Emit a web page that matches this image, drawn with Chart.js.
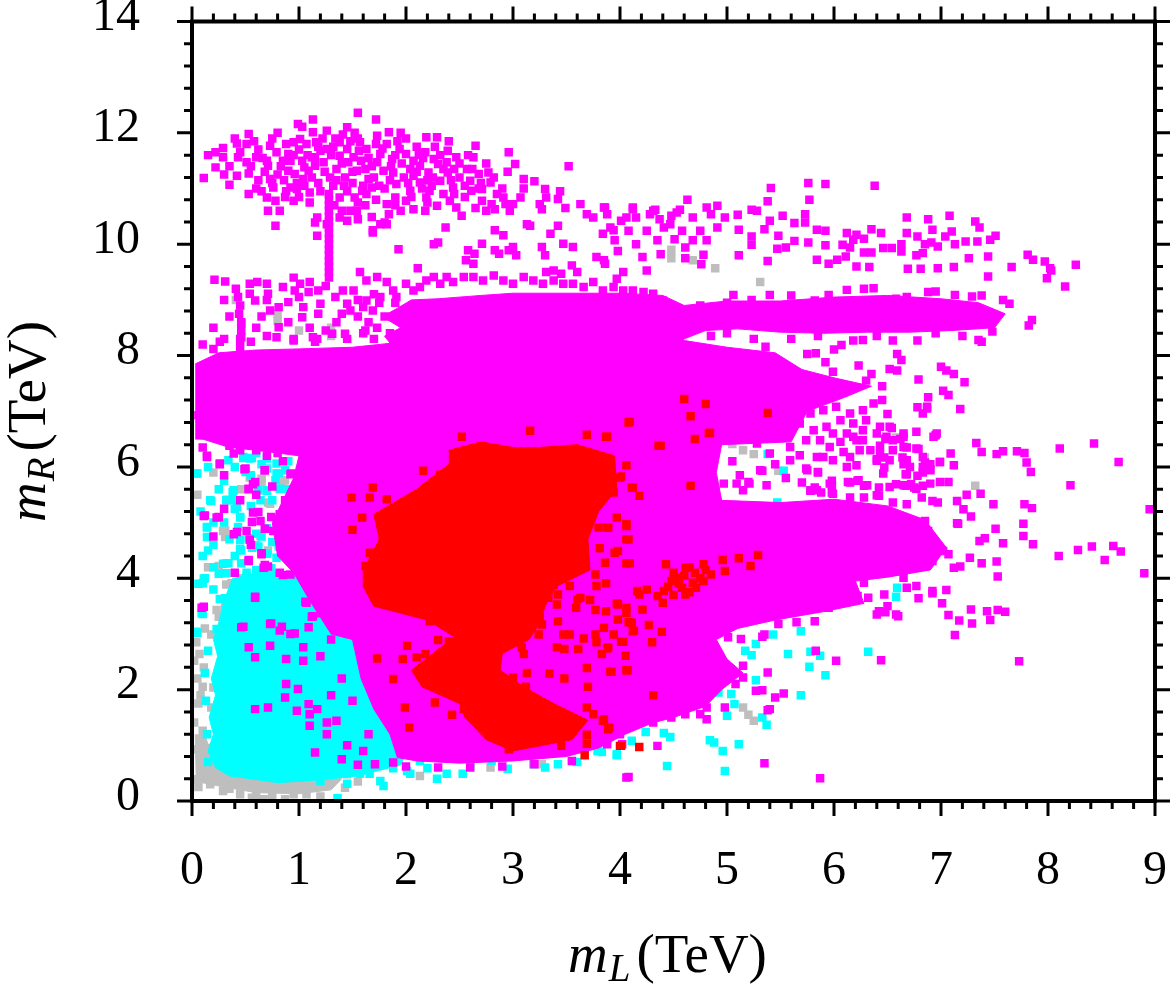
<!DOCTYPE html>
<html>
<head>
<meta charset="utf-8">
<script src="https://cdn.jsdelivr.net/npm/chart.js@4.4.0/dist/chart.umd.min.js"></script>
<style>
html,body{margin:0;padding:0;background:#fff;overflow:hidden;}
canvas{display:block;}
</style>
</head>
<body>
<canvas id="c" width="1171" height="984" style="width:1171px;height:984px"></canvas>
<script>
// ---------- axis ticks ----------
const xTickValues = [0,1,2,3,4,5,6,7,8,9];
const xTickLabels = ['0','1','2','3','4','5','6','7','8','9'];
const yTickValues = [0,2,4,6,8,10,12,14];
const yTickLabels = ['0','2','4','6','8','10','12','14'];
const xTitleParts = ['m','L','(TeV)'];
const yTitleParts = ['m','R','(TeV)'];

// ---------- dense regions (outlines of solidly covered areas) ----------
const grayRegion = [[0.03,1.2],[0.04,0.35],[0.3,0.25],[0.6,0.15],[1.0,0.13],[1.3,0.2],[1.4,0.4],[0.6,0.45],[0.2,0.7],[0.12,1.2]];
const cyanRegion = [[0.38,4.0],[0.3,3.6],[0.25,3.2],[0.2,2.9],[0.24,2.6],[0.18,2.2],[0.22,1.9],[0.16,1.5],[0.2,1.2],[0.15,0.9],[0.22,0.6],[0.35,0.45],[0.55,0.4],[0.8,0.33],[1.05,0.36],[1.3,0.4],[1.55,0.45],[1.75,0.55],[1.95,0.65],[2.1,1.2],[1.8,3.2],[1.4,4.1],[1.0,4.1],[0.7,4.15]];
const magentaCore = [[0.03,7.85],[0.25,8.05],[0.6,8.1],[1.0,8.12],[1.5,8.15],[2.0,8.25],[2.5,8.3],[3.0,8.35],[3.5,8.38],[4.0,8.38],[4.5,8.3],[5.0,8.15],[5.45,8.05],[5.7,7.75],[6.0,7.6],[6.35,7.45],[6.1,7.25],[5.75,7.0],[5.6,6.45],[4.95,6.4],[4.9,5.9],[4.95,5.4],[5.5,5.36],[6.0,5.42],[6.5,5.3],[6.85,5.05],[7.05,4.55],[6.9,4.15],[6.5,4.02],[6.2,3.95],[6.28,3.55],[5.9,3.4],[5.45,3.25],[5.1,3.1],[4.9,2.9],[5.0,2.55],[5.15,2.3],[4.95,2.0],[4.8,1.7],[4.5,1.5],[4.3,1.4],[4.05,1.2],[3.8,0.95],[3.5,0.8],[3.0,0.72],[2.5,0.68],[2.1,0.72],[1.92,0.78],[1.85,1.2],[1.7,1.65],[1.58,2.2],[1.5,2.9],[1.3,3.0],[1.1,3.6],[0.95,4.1],[0.8,4.4],[0.75,5.0],[0.85,5.4],[0.95,5.8],[1.0,6.2],[0.6,6.3],[0.35,6.35],[0.1,6.5],[0.03,6.5]];
const magentaBand = [[1.9,8.1],[1.8,8.35],[1.95,8.5],[1.78,8.7],[1.92,8.85],[2.05,9.0],[2.3,9.02],[2.7,9.08],[3.0,9.12],[3.5,9.12],[4.0,9.12],[4.4,9.08],[4.6,8.9],[5.0,8.98],[5.5,8.98],[6.0,9.05],[6.5,9.08],[7.0,9.02],[7.35,8.95],[7.6,8.75],[7.5,8.5],[7.1,8.45],[6.7,8.42],[6.3,8.42],[5.9,8.4],[5.5,8.42],[5.1,8.48],[4.8,8.45],[4.6,8.3],[4.5,8.1]];
const redRegion = [[2.4,6.3],[2.7,6.45],[3.0,6.35],[3.25,6.35],[3.6,6.4],[3.95,6.2],[3.97,5.6],[3.8,5.2],[3.7,4.7],[3.72,4.15],[3.4,3.85],[3.3,3.5],[3.25,3.2],[3.15,2.9],[2.9,2.65],[2.88,2.35],[3.1,2.05],[3.38,1.75],[3.7,1.45],[3.55,1.1],[3.0,0.9],[2.75,1.1],[2.55,1.5],[2.5,1.75],[2.15,2.05],[2.05,2.35],[2.25,2.65],[2.45,2.95],[2.2,3.25],[1.7,3.5],[1.6,3.85],[1.6,4.15],[1.75,4.7],[1.7,5.15],[2.1,5.6],[2.4,6.05]];

// ---------- individual points ----------
const grayPoints = [[0.02,1.41],[0.1,1.26],[0.05,0.93],[0.11,0.6],[0.03,0.39],[0.17,0.3],[0.29,0.18],[0.45,0.12],[0.56,0.06],[0.67,0.03],[0.87,0.03],[0.95,0.12],[1.07,0.12],[1.13,0.24],[1.01,0.3],[1.43,0.24],[1.45,0.48],[2.13,0.45],[2.79,0.6],[3.27,0.66],[0.02,2.52],[0.11,2.4],[0.07,2.64],[0.2,2.04],[0.18,1.68],[0.31,3.47],[0.25,4.22],[0.29,4.85],[0.32,3.89],[0.43,3.83],[0.64,4.76],[0.71,5.36],[0.65,5.72],[0.46,5.6],[0.85,5.72],[1.02,5.75],[0.9,3.83],[1.23,6.05],[1.26,5.63],[0.54,5.81],[0.39,3.26],[0.48,3.59],[0.7,3.68],[0.78,3.41],[0.85,3.23],[0.99,3.26],[0.29,3.23],[0.18,2.99],[0.32,2.99],[0.39,2.76],[0.32,2.28],[0.26,1.56],[0.29,1.08],[0.21,0.9],[0.41,9.0],[0.8,8.62],[1.3,8.5],[1.3,8.35],[1.0,8.45],[0.8,8.75],[4.48,9.9],[4.48,9.75],[4.68,9.71],[4.89,9.57],[5.31,9.32],[4.19,8.51],[4.56,8.6],[5.05,6.41],[5.15,6.3],[5.25,6.23],[5.15,1.68],[5.2,1.55],[5.25,1.44],[5.48,5.93],[6.85,6.17],[7.32,5.66],[6.2,3.65],[4.93,2.55],[6.58,6.53],[0.06,0.25],[0.15,0.45],[0.6,0.1],[0.75,0.08],[1.2,0.08],[0.35,0.22],[1.25,0.3],[1.55,0.35],[0.08,1.9],[0.05,2.2],[0.12,3.1],
[0.65,5.79],[0.73,5.34],[0.87,5.76],[1.01,5.94],[1.02,5.76],[0.31,4.86],[0.31,4.74],[0.71,4.5],[0.32,4.27],[0.37,3.91],[0.46,3.91],[0.43,3.73],[0.31,3.55],[0.23,3.43],[0.25,3.31],[0.68,3.73],[0.78,3.76],[0.87,3.37],[1.01,3.25],[0.34,3.07],[0.53,2.95],[0.06,1.75],[0.1,2.05],[0.04,2.85],[0.13,0.95],[0.08,0.7],
[0.2,5.9],[0.05,5.5],[0.45,4.0],[0.6,4.6],[0.15,4.2]];

const cyanPoints = [[0.05,5.88],[0.18,5.39],[0.38,5.55],[0.33,5.41],[0.48,6.16],[0.56,6.16],[0.7,5.97],[0.79,5.88],[0.82,5.61],[0.7,5.57],[0.94,5.39],[1.04,5.18],[0.98,5.54],[0.4,5.25],[0.45,5.09],[0.14,4.91],[0.14,4.74],[0.45,4.53],[0.29,4.26],[0.25,4.08],[0.11,3.99],[0.06,3.9],[0.51,4.1],[0.6,4.01],[0.73,4.08],[0.82,3.95],[0.56,4.55],[0.7,4.44],[0.79,4.37],[0.94,4.35],[0.26,3.63],[0.1,3.36],[0.05,3.02],[0.23,3.09],[0.36,3.54],[0.68,3.72],[0.82,3.56],[0.92,3.72],[0.92,4.31],[1.2,3.72],[1.07,3.47],[1.26,3.36],[1.38,3.36],[1.38,2.93],[1.26,2.64],[1.45,2.52],[1.5,2.28],[1.57,2.1],[1.73,2.21],[1.76,1.67],[1.82,1.44],[1.57,1.56],[1.5,1.31],[1.94,0.84],[1.88,0.59],[2.01,0.54],[2.2,0.59],[2.38,0.49],[2.53,0.49],[2.29,0.4],[2.04,0.49],[2.13,0.72],[1.76,0.36],[1.66,0.49],[1.79,0.27],[1.36,0.05],[1.2,0.36],[1.26,0.49],[1.57,0.49],[1.45,0.31],[1.69,0.72],[2.8,0.72],[3.19,0.66],[3.42,0.66],[3.79,0.9],[3.97,0.84],[4.07,1.38],[3.84,1.14],[5.38,6.23],[5.53,5.93],[5.47,5.36],[5.42,4.73],[6.59,3.83],[6.58,3.67],[5.43,2.99],[5.69,3.05],[5.27,2.82],[5.17,2.7],[5.23,2.62],[5.57,2.64],[5.87,2.61],[5.78,2.68],[6.32,2.68],[5.77,2.41],[5.92,2.26],[5.0,2.4],[5.27,2.17],[5.69,1.9],[5.04,1.92],[5.07,1.74],[4.92,1.95],[5.0,1.53],[5.33,1.5],[5.37,1.37],[4.07,1.36],[4.24,1.24],[4.41,1.22],[4.47,1.15],[4.11,1.08],[4.84,1.09],[4.88,1.05],[5.11,1.02],[4.96,0.9],[3.97,0.82],[3.83,0.88],[4.44,0.63],[4.98,0.54],[0.15,4.5],[0.2,5.0],[0.35,4.7],[0.6,4.8],[0.75,4.65],[0.55,5.3],[0.85,5.05],[0.3,5.75],[0.65,6.05],[0.9,6.1],[1.1,6.0],[0.2,4.2],[0.45,3.95],[0.65,3.6],[0.15,2.7],[0.12,2.3],[0.13,1.8],[0.14,1.2],[0.15,0.7],[2.6,0.62],[2.95,0.58],[3.3,0.6],[3.6,0.7],
[0.04,5.88],[0.34,6.12],[0.48,6.18],[0.54,6.15],[0.7,6.15],[0.79,6.06],[0.5,5.91],[0.81,5.88],[0.87,5.94],[0.39,5.58],[0.62,5.58],[0.7,5.58],[0.17,5.4],[0.32,5.4],[0.37,5.4],[0.64,5.4],[0.42,5.28],[0.45,5.1],[0.93,5.4],[0.96,5.22],[0.78,5.76],[0.14,4.92],[0.43,4.92],[0.45,4.69],[0.53,4.72],[0.62,4.57],[0.46,4.5],[0.65,4.75],[0.81,4.57],[0.93,4.69],[0.46,4.27],[0.34,4.27],[0.32,4.09],[0.6,4.15],[0.1,3.91],[0.12,4.0],[0.51,4.03],[0.62,4.09],[0.74,4.18],[0.31,3.64],[0.41,3.55],[0.5,3.49],[0.65,3.49],[0.76,3.55],[0.87,3.61],[0.93,3.79],[1.18,3.64],[1.27,3.73],[1.4,3.67],[0.09,3.37],[0.31,3.31],[0.43,3.25],[0.59,3.31],[0.65,3.07],[0.81,3.37],[0.87,3.07],[0.04,3.04],[0.28,3.01],[0.34,2.95],[1.02,3.13],
[0.1,4.4],[0.2,4.6],[0.08,5.2],[0.25,5.6],[0.15,6.0],[0.4,6.0],[0.6,6.25],[0.75,5.4],[0.55,5.85],[0.3,5.0],[0.4,4.4],[0.7,4.9],[0.85,4.85],[0.9,5.6],[0.2,3.8],[0.5,3.8],[0.75,3.85]];

const magentaPoints = [
[1.55,12.36],[1.13,12.24],[1.72,12.24],[0.99,12.16],[1.03,12.11],[1.13,12.01],[1.26,12.04],[1.41,11.97],[1.52,12.0],[1.73,11.95],[1.84,12.01],[0.53,11.98],[0.51,11.8],[0.42,11.81],[0.29,11.73],[0.22,11.65],[0.29,11.56],[0.22,11.38],[0.11,11.19],[0.35,11.07],[0.42,11.23],[0.43,11.56],[0.51,11.47],[0.6,11.56],[0.53,11.27],[0.53,10.9],[0.73,11.77],[0.79,11.65],[0.71,11.41],[0.73,11.17],[0.76,11.02],[0.7,10.84],[0.78,10.78],[0.78,10.33],[0.71,10.6],[0.82,10.6],[0.85,11.5],[0.9,11.62],[0.95,11.83],[1.01,11.89],[1.07,11.8],[0.96,11.26],[0.9,11.32],[0.92,11.02],[0.95,10.78],[0.98,10.99],[1.03,11.5],[1.04,11.17],[1.09,11.32],[1.1,10.93],[1.12,11.56],[1.15,11.41],[1.16,11.83],[1.2,11.68],[1.23,11.47],[1.26,11.71],[1.29,11.2],[1.32,11.05],[1.35,11.35],[1.38,11.59],[1.38,11.83],[1.45,11.71],[1.46,11.47],[1.43,11.2],[1.38,10.84],[1.4,10.6],[1.51,11.56],[1.54,11.32],[1.57,11.83],[1.63,11.71],[1.62,11.35],[1.65,11.17],[1.59,10.96],[1.52,10.84],[1.48,10.6],[1.55,10.45],[1.63,10.9],[1.68,10.49],[1.69,10.25],[1.68,11.02],[1.73,11.47],[1.76,11.62],[1.79,11.32],[1.82,11.8],[1.87,11.53],[1.88,11.29],[1.91,11.08],[1.9,10.84],[1.82,10.72],[1.8,10.39],[1.84,10.54],[1.94,11.71],[2.0,11.62],[2.07,11.5],[2.04,11.35],[2.07,11.23],[2.04,10.96],[2.0,10.78],[2.07,10.63],[2.13,11.41],[2.19,11.92],[2.29,11.92],[2.18,11.65],[2.26,11.53],[2.21,11.29],[2.13,11.11],[2.22,10.96],[2.19,10.84],[2.18,10.6],[2.29,10.69],[2.32,11.14],[2.3,11.44],[2.39,11.68],[2.38,11.47],[2.39,11.29],[2.44,11.02],[2.41,10.78],[2.47,11.56],[2.47,10.66],[2.52,10.51],[2.57,11.35],[2.6,11.14],[2.63,11.56],[2.65,11.77],[2.61,10.96],[2.68,11.26],[2.71,10.99],[2.71,10.78],[2.77,11.29],[2.79,11.11],[2.8,10.72],[2.83,10.63],[2.91,10.84],[2.93,10.72],[2.97,10.6],[3.0,10.72],[3.07,10.84],[3.02,11.44],[2.96,11.65],[3.1,11.17],[3.2,11.13],[3.3,10.99],[3.31,10.84],[3.44,10.95],[3.42,10.81],[3.49,10.65],[3.52,11.4],[3.63,10.72],[3.25,10.72],[3.27,10.63],[2.65,10.65],[2.75,10.6],[2.37,10.3],[2.3,10.03],[2.26,10.0],[1.93,9.91],[1.69,10.21],[1.76,10.36],[1.82,10.36],[1.45,10.42],[1.54,10.6],[1.17,10.48],[1.17,10.15],[1.15,10.39],[1.26,10.36],[1.38,10.48],
[0.62,11.7],[0.68,11.3],[0.86,11.15],[0.88,11.8],[1.0,11.7],[1.05,11.38],[1.18,11.1],[1.22,11.9],[1.3,11.6],[1.34,11.9],[1.48,11.85],[1.5,11.1],[1.58,11.5],[1.7,11.2],[1.72,11.8],[1.85,11.15],[1.96,11.45],[1.98,11.2],[2.1,11.75],[2.15,11.0],[2.25,11.2],[2.35,10.9],[2.5,11.2],[2.55,10.85],[2.7,11.1],[2.85,10.9],[1.2,10.95],[1.1,10.75],[1.62,10.7],[1.95,10.6],[0.62,11.15],[0.65,10.95],[0.58,11.85],[0.35,11.4],[0.15,11.6],[0.45,11.65],
[0.66,11.55],[0.75,11.9],[0.83,11.4],[0.92,11.5],[0.98,11.1],[1.08,11.6],[1.12,11.2],[1.18,11.75],[1.24,11.3],[1.32,11.75],[1.4,11.45],[1.42,11.05],[1.5,11.3],[1.56,11.68],[1.6,11.05],[1.68,11.4],[1.75,11.05],[1.78,11.72],[1.86,11.4],[1.92,11.85],[2.02,11.1],[2.1,11.3],[2.16,11.55],[2.24,11.05],[2.27,11.75],[2.35,11.35],[2.42,11.15],[2.5,11.45],[2.55,11.05],[2.62,11.35],[2.75,11.45],[2.82,11.2],[2.9,11.0],[2.45,10.9],[2.05,10.85],[1.72,10.8],[1.33,10.7],[1.0,10.85],[0.88,10.95],[0.6,11.0],[1.95,12.0],[1.45,12.1],[0.8,12.0],[2.4,11.85],
[0.7,11.5],[0.8,11.25],[0.87,10.85],[0.95,11.6],[1.05,11.05],[1.15,11.55],[1.35,11.15],[1.45,10.95],[1.55,11.9],[1.65,11.55],[1.8,11.0],[1.9,11.6],[2.0,11.9],[2.12,11.6],[2.2,11.15],[2.32,11.6],[2.45,11.35],[2.58,11.6],[2.68,11.0],[2.95,11.3],[3.1,11.0],[2.2,10.75],[1.9,10.7],[1.55,10.75],[0.75,11.1],[0.55,11.4],[0.4,11.9],[0.3,11.25],
[1.28,9.4],[1.28,9.5],[1.28,9.6],[1.28,9.7],[1.28,9.8],[1.28,9.9],[1.28,10.0],[1.28,10.1],[1.28,10.2],[1.28,10.3],[1.28,10.4],[1.28,10.5],[1.28,10.6],[1.28,10.7],[1.28,10.8],[1.28,10.9],
[2.11,9.57],[2.71,10.01],[2.58,9.89],[2.64,9.83],[2.56,9.71],[2.63,9.65],[2.83,10.25],[2.91,10.16],[2.83,9.89],[2.87,9.83],[2.96,9.89],[3.0,9.95],[3.03,9.8],[3.13,10.36],[3.16,10.33],[3.27,9.95],[3.3,9.8],[3.35,10.19],[3.42,10.33],[3.31,9.5],[3.38,9.53],[3.45,9.47],[3.55,9.62],[3.6,9.5],[3.69,10.54],[3.75,10.48],[3.86,10.66],[3.84,10.19],[3.94,10.25],[4.06,10.48],[4.12,10.63],[4.31,10.6],[4.37,10.45],[4.47,10.36],[4.53,10.57],[3.78,9.77],[3.86,9.65],[4.03,9.5],[3.97,9.38],[4.25,9.53],[3.56,9.95],[3.47,10.01],
[5.41,11.01],[5.76,11.1],[5.92,11.08],[6.38,11.05],[5.38,10.77],[5.77,10.8],[4.63,10.8],[5.73,10.54],[5.52,10.51],[5.1,10.53],[3.85,10.66],[4.12,10.66],[4.33,10.62],[4.56,10.62],[4.81,10.66],[4.91,10.69],[5.23,10.62],[5.28,10.6],[5.4,10.42],[5.63,10.38],[5.73,10.39],[5.84,10.26],[5.92,10.24],[6.12,10.2],[6.21,10.17],[6.35,10.27],[6.44,10.2],[6.68,10.2],[6.78,10.14],[6.92,10.26],[6.68,10.48],[6.88,10.45],[7.08,10.51],[7.32,10.41],[7.36,10.3],[7.04,10.14],[7.1,10.23],[7.51,10.15],[7.46,10.08],[7.34,10.05],[7.23,10.05],[7.13,10.0],[6.91,10.03],[6.85,10.0],[6.97,9.96],[6.63,10.0],[6.63,9.87],[6.77,9.8],[6.83,9.84],[6.54,9.93],[6.46,9.93],[6.35,9.85],[6.28,9.85],[6.15,9.94],[6.08,9.99],[6.18,10.08],[6.28,10.1],[5.92,9.98],[5.76,10.03],[5.63,10.06],[5.55,9.94],[5.47,9.92],[5.48,10.15],[5.35,10.27],[5.23,9.99],[5.11,10.26],[5.23,10.14],[5.11,9.8],[5.38,9.7],[4.78,9.81],[4.76,9.64],[4.61,9.75],[5.84,9.72],[5.95,9.65],[6.03,9.72],[6.11,9.78],[6.21,9.6],[6.33,9.59],[6.69,9.56],[6.81,9.56],[6.97,9.57],[7.12,9.59],[7.26,9.75],[7.44,9.78],[7.44,9.42],[7.66,9.59],[7.81,9.81],[7.86,9.72],[7.97,9.69],[8.02,9.57],[8.03,9.53],[7.99,9.39],[8.16,9.24],[8.26,9.63],
[3.88,10.54],[4.01,10.42],[4.15,10.48],[4.28,10.54],[4.48,10.51],[4.68,10.48],[4.85,10.54],[4.98,10.48],[3.91,10.3],[4.08,10.24],[4.25,10.24],[4.41,10.3],[4.58,10.24],[4.75,10.24],[4.91,10.3],[3.95,10.07],[4.15,10.0],[4.35,10.07],[4.51,10.09],[4.68,10.07],[4.21,9.77],[4.38,9.82],[4.61,9.94],[4.81,10.07],[3.98,9.88],[3.85,9.71],
[0.21,9.36],[0.31,9.33],[0.41,9.2],[0.54,9.29],[0.61,9.32],[0.54,9.11],[0.59,8.99],[0.7,9.29],[0.71,9.11],[0.73,8.81],[0.81,8.87],[0.85,9.23],[0.9,8.96],[0.96,9.17],[1.01,9.29],[1.04,8.87],[1.09,9.14],[1.1,9.32],[1.18,9.17],[1.2,8.93],[1.18,8.75],[1.34,9.05],[1.41,9.17],[1.45,8.93],[1.48,8.81],[1.57,9.5],[1.51,9.17],[1.03,8.69],[0.81,8.51],[0.79,8.33],[0.95,8.27],[1.13,8.33],[1.17,8.3],[1.31,8.39],[1.43,8.39],[1.62,8.45],[1.73,8.5],[0.26,8.25],[0.46,8.57],[0.46,8.33],[0.09,7.75],[0.11,7.55],
[0.45,8.15],[0.45,8.3],[0.46,8.45],[0.46,8.6],[0.44,8.75],[0.45,8.9],[0.43,9.05],
[1.65,8.6],[1.8,8.7],[1.9,8.95],[1.7,9.1],[1.85,8.4],[1.55,8.7],[1.35,8.6],[1.25,9.25],[0.65,8.7],[0.95,9.4],
[0.2,8.5],[0.35,8.7],[0.6,8.5],[0.9,8.6],[1.1,8.5],[1.4,8.75],[0.7,9.0],[1.0,9.05],[0.3,9.0],[1.25,8.45],[1.55,9.0],[1.7,8.3],[1.75,8.95],
[1.63,9.35],[1.73,9.41],[1.82,9.32],[1.88,9.17],[1.76,9.05],[1.63,8.99],[1.6,8.87],[1.69,8.81],[1.91,9.05],[2.0,9.29],[2.07,9.17],[2.13,9.23],[2.19,9.35],[2.26,9.41],[2.32,9.29],[2.38,9.41],[2.44,9.32],[2.54,9.41],[2.63,9.41],[2.72,9.35],[2.82,9.44],[2.91,9.35],[3.0,9.29],[3.1,9.41],[3.19,9.35],[3.28,9.29],[3.38,9.35],[3.47,9.29],[3.56,9.29],[3.66,9.23],[3.75,9.32],[3.84,9.17],[3.94,9.23],[4.03,9.17],[4.12,9.17],[4.22,9.14],[4.31,9.11],[4.4,8.99],[4.5,8.87],
[5.06,9.09],[5.23,9.0],[5.4,9.09],[5.6,9.08],[5.82,8.99],[5.95,9.09],[6.12,9.18],[6.28,9.2],[6.37,9.21],[6.58,9.02],[6.68,9.05],[6.88,9.14],[6.95,9.15],[7.13,9.09],[7.29,9.06],[7.38,9.08],[7.58,9.0],[7.64,8.93],[7.85,8.64],[7.82,8.54],[7.48,8.43],[7.35,8.28],[7.38,8.25],[6.78,8.27],[6.55,8.27],[6.59,8.03],[6.63,7.92],[6.18,8.27],[6.27,8.28],[7.0,7.8],[7.05,7.73],[7.12,7.67],[7.22,7.52],[6.79,7.57],[6.52,7.76],[6.59,7.73],[6.35,7.67],[5.99,7.71],[6.23,7.82],[5.92,7.88],[6.0,8.11],[6.07,8.19],[7.18,7.04],[6.88,7.25],[7.02,7.37],[7.07,7.29],[6.78,7.07],[6.87,7.05],[6.95,6.57],[7.33,6.43],[7.38,6.27],[7.52,6.23],[7.58,6.28],[7.71,6.28],[7.78,6.25],[8.11,6.33],[8.43,6.42],[8.66,6.09],[7.09,6.24],[7.12,6.03],[6.99,6.09],[6.79,6.32],[6.68,6.35],[6.64,6.17],[6.43,6.38],[6.48,6.5],[6.54,6.7],[6.62,6.5],[6.4,6.14],[6.47,5.99],[6.67,5.87],[6.78,5.84],[6.85,6.08],[6.9,5.96],[7.84,5.91],[7.8,6.08],[5.36,8.16],[5.31,7.97],[5.48,7.82],[5.75,8.03],[5.83,8.04],
[4.6,8.75],[4.75,8.9],[4.9,8.7],[5.0,8.95],[4.7,8.6],[6.45,7.2],[6.5,6.95],[6.45,7.45],[6.3,7.55],[5.0,8.4],[5.25,8.3],[4.85,8.35],[5.6,8.3],[5.85,8.35],[6.4,8.35],[6.95,8.4],[7.2,8.35],
[5.28,6.42],[5.4,6.24],[5.31,5.94],[5.37,5.67],[5.59,6.36],[5.68,6.21],[5.74,5.97],[5.85,5.91],[5.84,6.18],[5.9,6.18],[5.59,6.12],[5.96,6.36],[6.06,6.45],[5.99,6.12],[6.12,6.0],[6.21,6.03],[5.96,5.7],[6.13,5.73],[6.23,5.76],[6.31,5.67],[6.4,5.49],[6.52,5.64],[6.65,5.67],[6.77,5.61],[6.9,5.7],[6.99,5.73],[7.07,5.73],[6.52,6.12],[6.46,5.88],[6.43,6.24],[6.55,6.3],[6.65,6.36],[6.77,6.33],[6.68,6.12],[6.83,6.0],[6.71,6.0],[6.9,5.94],[6.99,6.09],[6.83,6.18],[6.55,6.48],[6.65,6.54],[6.49,6.54],[6.4,6.6],[6.27,6.48],[6.34,6.3],[6.24,6.3],[6.15,6.18],[6.09,6.27],[6.18,6.54],[6.27,6.66],[6.43,6.72],[6.52,6.72],[6.65,6.6],[6.77,6.63],[6.93,6.54],[6.83,6.96],[6.87,7.08],[6.96,6.6],[5.78,5.58],[5.84,5.58],[5.99,5.52],[5.21,5.7],[5.2,5.73],[5.09,5.7],[5.15,5.58],[4.97,5.7],[5.65,7.08],[5.78,6.96],[5.9,7.02],[6.02,7.08],[6.15,6.96],[6.27,7.02],[6.37,7.14],[5.68,6.78],[5.81,6.66],[5.93,6.72],[6.06,6.84],[6.18,6.78],[6.3,6.84],[5.74,6.48],[5.87,6.48],[5.99,6.6],[6.12,6.6],[6.21,6.48],[5.05,6.1],[5.12,5.85],[5.45,6.05],[5.55,5.8],[5.7,5.72],
[5.78,5.57],[5.88,5.54],[5.98,5.54],[6.15,5.45],[6.28,5.45],[6.42,5.48],[6.55,5.36],[6.68,5.33],[6.82,5.45],[6.72,5.69],[6.83,5.66],[6.92,5.39],[6.97,5.36],[7.15,5.39],[7.21,5.24],[7.16,4.98],[6.15,5.72],[6.28,5.66],[6.42,5.63],[6.58,5.69],[6.67,5.66],[5.98,5.75],[5.82,5.63],[5.98,5.67],[5.33,5.93],[5.75,5.94],[5.85,5.9],[6.22,5.75],[6.4,6.11],[6.47,6.17],[6.65,6.05],[6.68,5.87],[6.83,5.9],[6.9,6.05],[6.75,5.63],[6.72,4.82],[6.85,5.03],[6.88,4.85],[6.75,4.61],[6.88,4.64],[7.02,4.49],[7.07,4.43],[6.92,4.31],[7.12,4.19],[6.65,4.01],[6.77,3.86],[6.92,3.77],[6.28,3.92],[6.22,3.68],[6.32,3.65],[6.47,3.71],[6.42,3.41],[6.48,3.39],[6.58,3.35],[5.95,3.47],[5.82,3.23],[5.65,3.21],[5.48,3.18],[5.35,2.99],
[5.01,2.94],[5.15,2.43],[5.15,2.22],[5.08,2.1],[5.27,1.98],[5.33,1.99],[4.81,1.47],[4.75,1.56],[4.81,1.68],[4.98,1.68],[5.4,1.65],[4.31,1.41],[4.48,1.5],[4.61,1.56],[4.0,1.2],[3.88,1.02],
[5.35,0.68],[5.87,0.41],[4.08,0.43],[4.35,0.99],[5.38,1.63],[5.45,1.86],[5.53,1.93],[5.38,2.31],[5.33,2.95],[5.13,2.91],[6.4,3.35],[6.5,3.5],[6.6,3.32],[6.44,2.53],[6.02,2.52],[5.83,2.7],[7.73,2.51],
[8.21,5.67],[8.95,5.24],[8.9,4.09],[7.78,5.33],[7.85,5.26],[7.77,4.98],[7.77,4.76],[7.86,4.61],[7.58,4.63],[7.51,4.89],[7.49,5.33],[7.37,5.52],[7.24,5.5],[7.15,4.99],[7.28,5.11],[7.36,4.67],[7.41,4.72],[7.52,4.3],[7.53,4.03],[7.38,4.27],[7.27,4.37],[7.18,4.21],[8.1,4.4],[8.28,4.51],[8.41,4.57],[8.61,4.58],[8.68,4.48],[8.53,4.33],[7.28,3.44],[7.43,3.41],[7.53,3.43],[7.6,3.4],[7.46,3.25],[7.29,3.19],[7.17,3.24],[7.07,3.34],[7.13,2.98],[7.05,3.79],[7.01,3.55],[6.92,3.73],[6.79,3.64],[6.68,3.83],
[0.14,6.2],[0.26,6.05],[0.49,5.96],[0.68,5.94],[0.92,5.87],[0.57,5.69],[0.53,5.6],[0.99,5.54],[1.15,5.63],[1.23,5.84],[1.32,6.11],[0.57,5.18],[0.64,5.03],[0.82,5.15],[0.76,4.85],[0.85,4.73],[0.51,4.85],[0.39,4.79],[0.53,4.31],[0.65,4.43],[0.67,4.19],[0.11,5.12],[0.23,5.09],[0.09,3.47],[0.59,3.65],[0.46,3.12],[0.73,3.18],[0.82,3.06],[0.92,3.0],[0.73,2.79],[0.53,2.76],[0.59,2.58],[0.88,2.55],[1.04,2.52],[0.88,2.1],[0.87,1.86],[0.99,2.01],[1.09,1.74],[1.17,1.65],[0.71,1.68],[0.59,1.65],[0.98,1.62],[1.1,1.56],[1.1,1.35],[1.15,0.87],[1.26,1.2],[1.35,1.44],[1.26,1.41],[1.04,2.76],[1.07,3.56],[1.13,3.32],[1.23,3.38],[1.35,3.18],[1.09,3.12],[1.71,0.66],[1.88,0.69],[4.06,0.42],[4.02,1.02],[0.82,4.1],[0.92,4.07],[1.01,4.1],[1.1,4.13],[1.23,4.13],
[0.06,6.93],[0.12,6.57],[0.25,6.54],[0.14,6.18],[0.26,6.06],[0.39,6.24],[0.5,5.97],[0.68,5.94],[0.59,5.73],[0.53,5.61],[0.93,5.88],[1.15,5.61],[1.21,5.85],[0.87,5.4],[1.06,5.46],[0.62,5.19],[0.74,5.1],[0.56,5.01],[0.68,4.89],[0.42,4.83],[0.54,4.69],[0.12,5.13],[0.25,5.1],[0.65,4.45],[0.53,4.33],[0.84,4.5],[0.93,4.54],[1.0,4.39],[0.85,4.06],[0.71,4.21],[0.59,3.67],[0.68,4.24],[0.11,3.49],[0.48,3.13],[0.74,3.19],[0.84,3.13],[1.06,3.58],[1.12,3.31],[1.21,3.37],[0.96,3.01],
[0.45,6.3],[0.7,6.2],[0.85,6.1],[0.3,5.85],[0.6,5.5],[0.45,5.4],[0.3,5.25],[0.75,5.65],[0.55,4.6],[0.4,4.1],[0.2,4.75],
[0.1,8.2],[0.3,8.3],[0.55,8.25],[0.7,8.35],[0.95,8.3],[1.15,8.25],[1.45,8.3],[1.6,8.4],[0.2,8.12],[0.1,6.35],[0.35,6.38],[0.6,6.3],[0.8,6.25],[1.05,6.25],[1.2,6.1],
[2.0,0.62],[2.3,0.6],[2.6,0.6],[2.9,0.62],[3.2,0.66],[3.55,0.72],
[1.4,2.2],[1.3,1.9],[1.45,1.0],[1.6,0.9],[1.3,2.9],[1.2,2.6],[1.5,1.8],[1.65,1.2],[1.4,0.75],[1.55,0.65]
];

const redPoints = [[3.16,6.65],[3.69,6.58],[3.87,6.54],[4.08,6.8],[2.52,6.54],[4.06,6.03],[4.0,5.81],[4.12,5.63],[3.97,5.09],[4.06,4.94],[3.8,4.91],[3.89,4.91],[4.08,4.7],[3.81,4.54],[3.98,4.49],[3.86,4.28],[4.09,4.27],[3.77,4.07],[3.87,3.91],[3.78,3.86],[3.63,3.65],[3.72,3.61],[3.59,3.47],[3.77,3.43],[3.87,3.41],[3.97,3.55],[4.06,3.47],[4.16,3.77],[4.08,3.21],[4.12,3.05],[3.94,2.99],[3.77,2.99],[3.66,2.92],[3.53,2.99],[3.47,2.99],[3.41,2.76],[3.48,2.73],[3.61,2.73],[3.78,2.85],[3.89,2.76],[4.03,2.86],[3.83,2.64],[4.05,2.61],[3.69,2.39],[3.92,2.32],[4.07,2.35],[3.34,2.29],[3.48,2.2],[3.7,2.05],[3.13,2.3],[3.12,2.05],[3.0,2.22],[3.25,3.3],[3.42,3.23],[3.27,3.17],[3.24,2.99],[3.1,2.64],[3.08,2.76],[3.33,3.65],[3.41,3.53],[3.6,3.62],[3.38,3.88],[3.53,3.86],[3.42,3.71],[2.01,2.79],[1.73,2.56],[1.88,2.19],[1.97,2.55],[2.1,2.58],[2.18,2.64],[2.3,2.89],[2.4,2.87],[2.22,3.36],[2.22,3.23],[1.99,1.68],[2.27,1.77],[2.43,1.55],[2.03,1.32],[2.54,1.65],[3.69,1.19],[3.67,0.82],[3.69,1.03],[4.0,0.99],[3.13,1.14],[2.96,0.93],[3.45,0.99],[3.56,1.26],[3.75,1.56],[3.84,1.44],[3.89,1.29],[3.69,1.68],[1.49,5.45],[1.5,4.87],[1.59,5.09],[1.66,4.46],[1.62,4.22],[1.69,5.63],[1.66,5.45],[1.82,5.42],[1.99,5.36],[2.16,5.93],[2.32,5.86],[2.29,5.72],
[4.36,6.38],[4.7,6.5],[4.83,6.61],[3.88,6.11],[3.87,5.69],[4.66,5.66],[3.94,5.54],[4.11,5.63],[4.18,5.48],[4.06,4.97],[3.88,4.91],[4.06,4.7],[3.95,4.46],[4.06,4.27],[4.43,4.25],[4.61,4.19],[4.78,4.25],[4.96,4.33],[5.11,4.36],[5.29,4.42],[5.22,4.22],[4.98,4.13],[4.85,4.07],[4.55,4.01],[4.48,3.95],[4.68,3.92],[4.78,3.95],[4.58,3.83],[4.71,3.83],[4.41,3.77],[4.25,3.8],[4.18,3.71],[4.61,3.71],[4.35,3.68],[4.4,3.56],[4.21,3.44],[3.98,3.53],[4.06,3.38],[3.98,3.26],[4.11,3.2],[4.27,3.16],[3.85,3.11],[4.39,3.04],[4.13,3.06],[4.01,2.86],[4.3,2.85],[3.88,2.74],[3.91,2.32],[4.06,2.35],[4.31,1.9],[3.85,1.47],[3.9,1.32],[4.01,0.99],[4.18,0.97],
[4.6,7.22],[4.8,7.13],[4.66,6.91],[5.38,6.97],[4.09,6.81],[3.88,6.54],[4.84,6.61],[4.38,6.38],[3.86,6.11],[4.01,5.83],
[4.5,4.1],[4.6,4.05],[4.7,4.1],[4.55,3.9],[4.65,3.75],[4.5,3.7],[4.45,3.85],[4.75,4.0],[4.8,4.15],[4.65,4.2]];

// ---------- colours ----------
const GRAY = '#bebebe', CYAN = '#00ffff', MAGENTA = '#ff00ff', RED = '#ff0000';

const toXY = arr => arr.map(p => ({x: p[0], y: p[1]}));
function region(arr, color, order) {
  return { type: 'line', data: toXY(arr), showLine: true, fill: 'shape', tension: 0,
    backgroundColor: color, borderColor: color, borderWidth: 1, pointRadius: 0, pointHoverRadius: 0, order: order };
}
function points(arr, color, order) {
  return { type: 'scatter', data: toXY(arr), showLine: false, pointStyle: 'rect', pointRadius: 6, pointHoverRadius: 6,
    backgroundColor: color, borderWidth: 0, order: order };
}

const FONT = '"Liberation Serif", "Times New Roman", serif';

const frameTicks = {
  id: 'frameTicks',
  afterDatasetsDraw(chart) {
    const {ctx, chartArea: a, scales: {x, y}} = chart;
    ctx.save();
    ctx.strokeStyle = '#000';
    ctx.lineWidth = 3;
    ctx.beginPath();
    for (let i = 0; i <= 45; i++) {
      const px = x.getPixelForValue(i * 0.2);
      const len = (i % 5 === 0) ? 15 : 8;
      ctx.moveTo(px, a.bottom); ctx.lineTo(px, a.bottom + len);
      ctx.moveTo(px, a.top); ctx.lineTo(px, a.top - len);
    }
    for (let i = 0; i <= 35; i++) {
      const py = y.getPixelForValue(i * 0.4);
      const len = (i % 5 === 0) ? 15 : 8;
      ctx.moveTo(a.left, py); ctx.lineTo(a.left - len, py);
      ctx.moveTo(a.right, py); ctx.lineTo(a.right + len, py);
    }
    ctx.stroke();
    ctx.lineWidth = 4;
    ctx.strokeRect(a.left, a.top, a.right - a.left, a.bottom - a.top);
    ctx.restore();
  }
};

function drawMathTitle(ctx, parts, x, y, size) {
  ctx.textBaseline = 'alphabetic';
  ctx.textAlign = 'left';
  ctx.fillStyle = '#000';
  ctx.font = 'italic ' + size + 'px ' + FONT;
  ctx.fillText(parts[0], x, y);
  let w = ctx.measureText(parts[0]).width + 1;
  const sub = Math.round(size * 0.7);
  ctx.font = 'italic ' + sub + 'px ' + FONT;
  ctx.fillText(parts[1], x + w, y + size * 0.16);
  w += ctx.measureText(parts[1]).width + 6;
  ctx.font = size + 'px ' + FONT;
  ctx.fillText(parts[2], x + w, y);
}

const axisTitles = {
  id: 'axisTitles',
  afterDraw(chart) {
    const ctx = chart.ctx;
    ctx.save();
    drawMathTitle(ctx, xTitleParts, 568, 972, 55);
    ctx.translate(45, 522);
    ctx.rotate(-Math.PI / 2);
    drawMathTitle(ctx, yTitleParts, 0, 0, 55);
    ctx.restore();
  }
};

new Chart(document.getElementById('c'), {
  type: 'scatter',
  data: {
    datasets: [
      region(grayRegion, GRAY, 9),
      points(grayPoints, GRAY, 8),
      region(cyanRegion, CYAN, 7),
      points(cyanPoints, CYAN, 6),
      region(magentaCore, MAGENTA, 5),
      region(magentaBand, MAGENTA, 5),
      points(magentaPoints, MAGENTA, 4),
      region(redRegion, RED, 3),
      points(redPoints, RED, 2)
    ]
  },
  options: {
    responsive: false,
    animation: false,
    devicePixelRatio: 1,
    events: [],
    layout: { padding: { top: 21.5, right: 16, left: 0, bottom: 0 } },
    plugins: { legend: { display: false }, tooltip: { enabled: false } },
    scales: {
      x: {
        type: 'linear', min: 0, max: 9,
        grid: { display: false, drawTicks: false },
        border: { display: false },
        ticks: {
          stepSize: 1, padding: 42, color: '#000', maxRotation: 0, autoSkip: false,
          font: { family: FONT, size: 48 },
          callback: v => { const i = xTickValues.indexOf(Math.round(v)); return i >= 0 ? xTickLabels[i] : ''; }
        },
        afterFit: s => { s.height = 183; s.paddingLeft = 0; s.paddingRight = 0; }
      },
      y: {
        type: 'linear', min: 0, max: 14,
        grid: { display: false, drawTicks: false },
        border: { display: false },
        ticks: {
          stepSize: 2, padding: 52, labelOffset: -4, color: '#000', autoSkip: false,
          font: { family: FONT, size: 48 },
          callback: v => { const i = yTickValues.indexOf(Math.round(v)); return i >= 0 ? yTickLabels[i] : ''; }
        },
        afterFit: s => { s.width = 192; s.paddingTop = 0; s.paddingBottom = 0; }
      }
    }
  },
  plugins: [frameTicks, axisTitles]
});
</script>
</body>
</html>
